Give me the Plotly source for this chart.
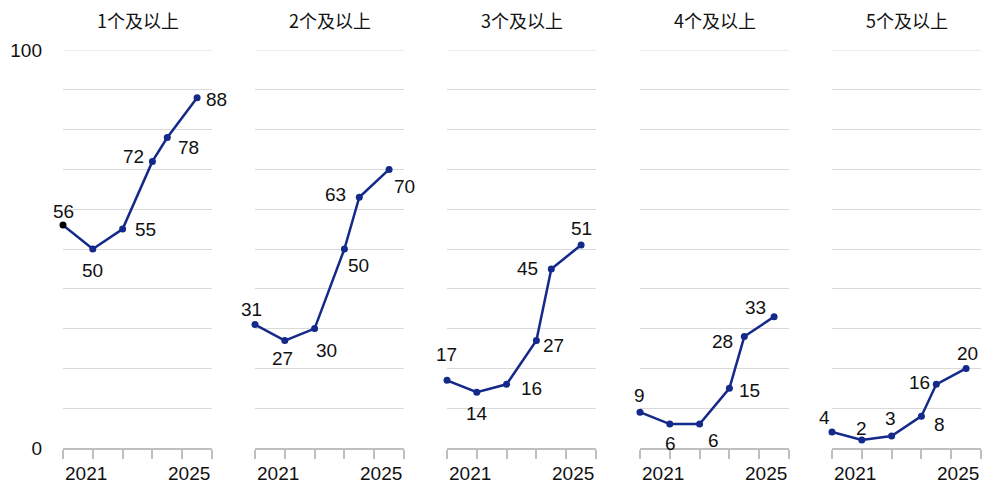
import plotly.graph_objects as go

# Panel titles and data
titles = ["1个及以上", "2个及以上", "3个及以上", "4个及以上", "5个及以上"]
periods = [0, 1, 2, 3, 3.5, 4.5]
year_labels = ["2021", "2025"]
series = [
    [56, 50, 55, 72, 78, 88],
    [31, 27, 30, 50, 63, 70],
    [17, 14, 16, 27, 45, 51],
    [9, 6, 6, 15, 28, 33],
    [4, 2, 3, 8, 16, 20],
]

# Pixel offsets (dx, dy) of each value label relative to its point
label_offsets = [
    [(0, 14), (0, -21), (23, 0), (-19, 5), (21, -10), (19, -2)],
    [(-4, 15), (-2, -18), (12, -22), (14, -16), (-24, 3), (15, -17)],
    [(-1, 26), (0, -21), (25, -4), (17, -5), (-24, 0), (0, 17)],
    [(-1, 17), (1, -19), (14, -16), (20, -2), (-22, -5), (-19, 9)],
    [(-8, 15), (0, 12), (-1, 18), (18, -8), (-17, 2), (1, 15)],
]

Y_MAX = 100
NAVY = "#14298a"
GRID = "#d9d9d9"
NUM_FONT = dict(family="Liberation Sans, Arial, sans-serif", size=19, color="#111111")

fig = go.Figure()

W = 989
left, right = 63, 8
plot_w = W - left - right
panel_starts = [63, 255, 447, 640, 832]
panel_w = 149

annotations = []
shapes = []
for i, (title, vals) in enumerate(zip(titles, series)):
    n = i + 1
    xa = "x" if n == 1 else f"x{n}"
    ya = "y" if n == 1 else f"y{n}"
    colors = [NAVY] * len(vals)
    if i == 0:
        colors[0] = "#000000"
    fig.add_trace(go.Scatter(
        x=periods, y=vals, mode="lines+markers",
        line=dict(color=NAVY, width=2.5),
        marker=dict(color=colors, size=7),
        cliponaxis=False, showlegend=False, hoverinfo="skip",
        xaxis=xa, yaxis=ya,
    ))
    d0 = (panel_starts[i] - left) / plot_w
    d1 = (panel_starts[i] + panel_w - left) / plot_w
    show_y = i == 0
    fig.layout[f"xaxis{'' if n == 1 else n}"] = dict(
        domain=[d0, d1], range=[0, 5], tickvals=[0, 1, 2, 3, 4, 5],
        ticktext=[""] * 6, showgrid=False, zeroline=False,
        showline=True, linecolor="#bfbfbf", linewidth=1.5,
        ticks="outside", ticklen=9, tickcolor="#bfbfbf", tickwidth=1.5,
        anchor=ya, fixedrange=True,
    )
    fig.layout[f"yaxis{'' if n == 1 else n}"] = dict(
        domain=[0, 1], range=[0, Y_MAX],
        tickvals=list(range(0, Y_MAX + 1, 10)),
        ticktext=["0"] + [""] * 9 + ["100"] if show_y else [""] * 11,
        showticklabels=show_y, tickfont=NUM_FONT,
        ticklabelstandoff=20,
        showgrid=True, gridcolor=GRID, gridwidth=1,
        zeroline=False, showline=False, ticks="",
        anchor=xa, fixedrange=True,
    )
    # top gridline sits on the plot edge, draw it explicitly
    shapes.append(dict(
        type="line", xref=f"{xa} domain", yref=ya, x0=0, x1=1,
        y0=Y_MAX, y1=Y_MAX, line=dict(color=GRID, width=1), layer="below",
    ))
    # panel title
    annotations.append(dict(
        text=title, xref=f"{xa} domain", yref="paper", x=0.5, y=1,
        yshift=30, showarrow=False, yanchor="middle",
        font=dict(family="Noto Sans CJK SC", size=18, color="#111111"),
    ))
    # year labels at both ends of the axis
    annotations.append(dict(
        text=year_labels[0], xref=xa, yref="paper", x=0, y=0, yshift=-13,
        xanchor="left", yanchor="top", showarrow=False, font=NUM_FONT,
    ))
    annotations.append(dict(
        text=year_labels[1], xref=xa, yref="paper", x=5, y=0, yshift=-13,
        xanchor="right", yanchor="top", showarrow=False, font=NUM_FONT,
    ))
    # value labels
    for xv, yv, (dx, dy) in zip(periods, vals, label_offsets[i]):
        annotations.append(dict(
            text=str(yv), xref=xa, yref=ya, x=xv, y=yv,
            xshift=dx, yshift=dy, showarrow=False, font=NUM_FONT,
        ))

fig.update_layout(
    width=W, height=487,
    margin=dict(l=left, r=right, t=50, b=39),
    plot_bgcolor="white", paper_bgcolor="white",
    annotations=annotations, shapes=shapes,
)

fig.write_html("out.html", config={"displayModeBar": False})
